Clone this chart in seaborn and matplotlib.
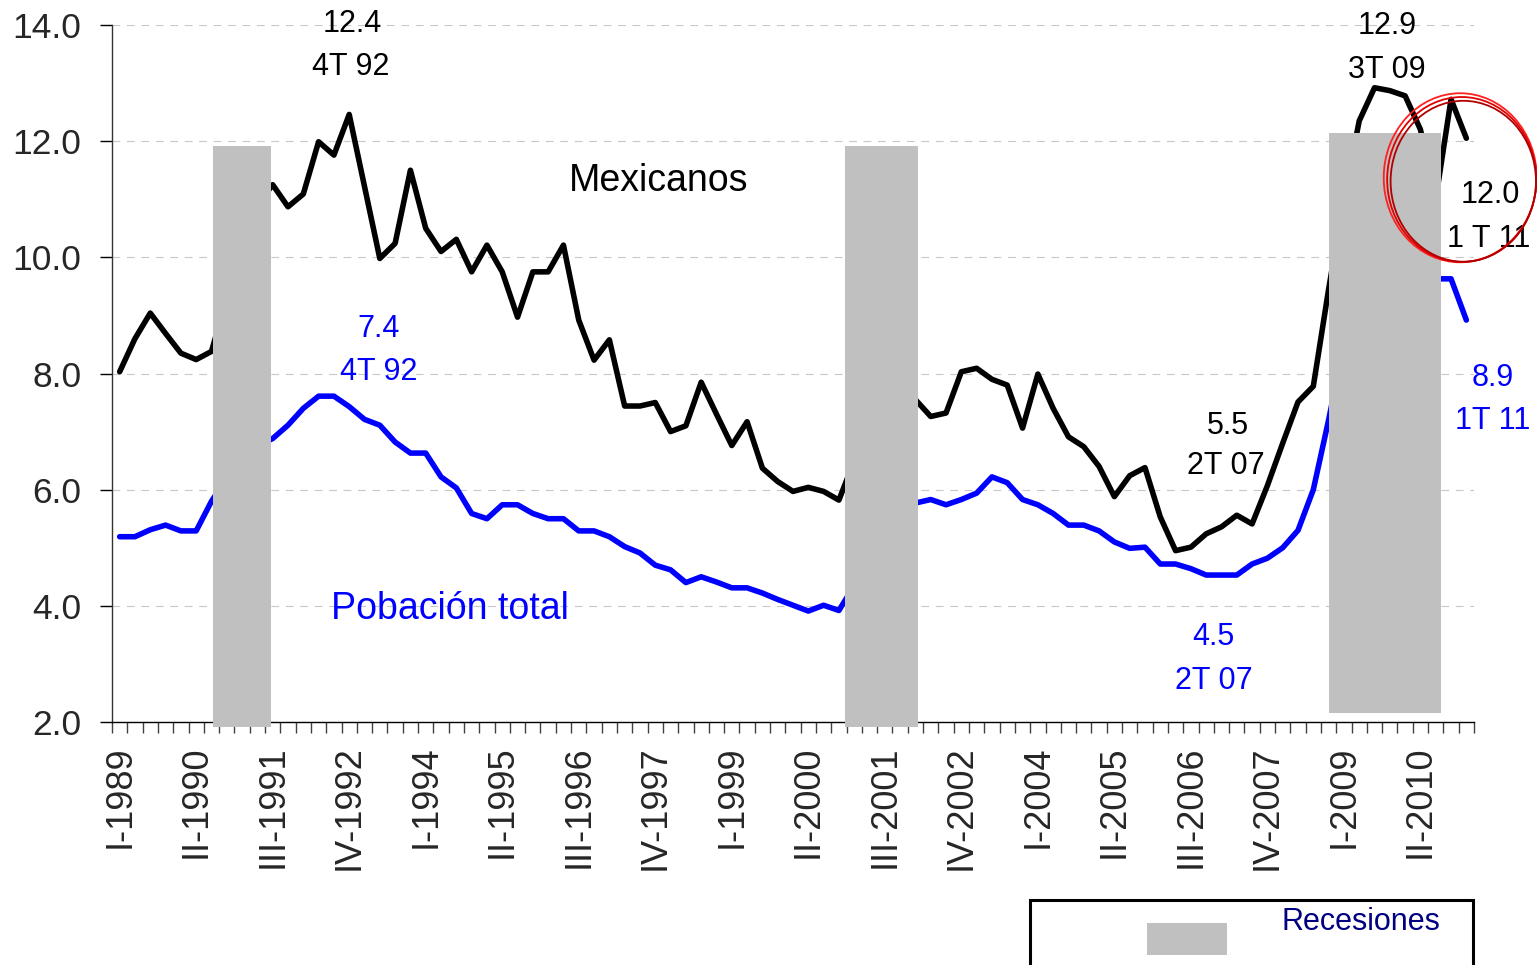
import numpy as np
import pandas as pd
import matplotlib
matplotlib.use("Agg")
import matplotlib.pyplot as plt
from matplotlib.patches import Rectangle, Ellipse
import seaborn as sns

# ---------------- data ----------------
mexicanos = [8.03, 8.60, 9.04, 8.69, 8.35, 8.24, 8.38, 9.30, 10.30, 10.90,
             11.25, 10.87, 11.09, 11.99, 11.76, 12.46, 11.22, 9.98, 10.24, 11.50,
             10.50, 10.10, 10.31, 9.75, 10.21, 9.75, 8.97, 9.75, 9.75, 10.21,
             8.92, 8.23, 8.58, 7.44, 7.44, 7.50, 7.00, 7.10, 7.85, 7.30,
             6.76, 7.17, 6.37, 6.14, 5.97, 6.04, 5.97, 5.82, 6.50, 7.20,
             7.60, 7.80, 7.55, 7.26, 7.32, 8.03, 8.09, 7.90, 7.80, 7.06,
             7.99, 7.40, 6.91, 6.74, 6.40, 5.88, 6.24, 6.38, 5.53, 4.95,
             5.01, 5.24, 5.36, 5.56, 5.41, 6.07, 6.80, 7.51, 7.78, 9.45,
             11.00, 12.35, 12.92, 12.87, 12.78, 12.20, 11.00, 12.72, 12.05]

poblacion = [5.19, 5.19, 5.31, 5.39, 5.29, 5.29, 5.80, 6.20, 6.50, 6.75,
             6.88, 7.11, 7.40, 7.61, 7.61, 7.43, 7.21, 7.11, 6.82, 6.63,
             6.63, 6.22, 6.03, 5.59, 5.50, 5.74, 5.74, 5.59, 5.50, 5.50,
             5.29, 5.29, 5.19, 5.02, 4.91, 4.70, 4.62, 4.40, 4.50, 4.41,
             4.31, 4.31, 4.22, 4.11, 4.01, 3.91, 4.01, 3.92, 4.35, 4.90,
             5.30, 5.60, 5.77, 5.83, 5.74, 5.83, 5.94, 6.22, 6.12, 5.83,
             5.74, 5.59, 5.39, 5.39, 5.29, 5.10, 4.99, 5.01, 4.72, 4.72,
             4.64, 4.53, 4.53, 4.53, 4.72, 4.82, 5.00, 5.30, 6.00, 7.20,
             8.50, 9.30, 9.60, 9.70, 9.70, 9.65, 9.63, 9.63, 8.92]

tick_labels = ["I-1989", "II-1990", "III-1991", "IV-1992", "I-1994", "II-1995",
               "III-1996", "IV-1997", "I-1999", "II-2000", "III-2001", "IV-2002",
               "I-2004", "II-2005", "III-2006", "IV-2007", "I-2009", "II-2010"]
tick_every = 5

# recession shading (quarter index units / value units)
rec_start = [6.10, 47.41, 79.04]
rec_end = [9.89, 52.18, 86.37]
rec_bottom = [1.92, 1.92, 2.16]
rec_top = [11.91, 11.91, 12.14]

# annotations: (text, x quarter index, y value, colour, size)
annotations = [
    ("12.4", 15.17, 14.01, "black", 22), ("4T 92", 15.08, 13.28, "black", 22),
    ("Mexicanos", 35.2, 11.31, "black", 27),
    ("7.4", 16.95, 8.76, "blue", 22), ("4T 92", 16.95, 8.02, "blue", 22),
    ("Pobación total", 21.6, 3.94, "blue", 27),
    ("5.5", 72.4, 7.10, "black", 22), ("2T 07", 72.3, 6.40, "black", 22),
    ("4.5", 71.5, 3.46, "blue", 22), ("2T 07", 71.5, 2.71, "blue", 22),
    ("12.9", 82.8, 13.99, "black", 22), ("3T 09", 82.8, 13.23, "black", 22),
    ("12.0", 89.56, 11.07, "black", 22), ("1 T 11", 89.43, 10.32, "black", 22),
    ("8.9", 89.7, 7.93, "blue", 22), ("1T 11", 89.7, 7.19, "blue", 22),
]

n = len(mexicanos)
df = pd.DataFrame({"q": np.arange(n), "Mexicanos": mexicanos, "Poblacion": poblacion})

# ---------------- style ----------------
sns.set_style("white")
plt.rcParams["font.family"] = ["Liberation Sans", "DejaVu Sans"]

W, H = 1537, 965
fig = plt.figure(figsize=(W / 100, H / 100), dpi=100)
ax = fig.add_axes([112 / W, 243 / H, 1362 / W, 697 / H])

sns.lineplot(data=df, x="q", y="Mexicanos", ax=ax, color="black", linewidth=4.0, zorder=2)
sns.lineplot(data=df, x="q", y="Poblacion", ax=ax, color="#0000ff", linewidth=4.0, zorder=2)

heights = np.array(rec_top) - np.array(rec_bottom)
widths = np.array(rec_end) - np.array(rec_start)
ax.bar(rec_start, heights, bottom=rec_bottom, width=widths, align="edge",
       color="#c0c0c0", linewidth=0, zorder=3, clip_on=False)

ax.set_xlim(-0.5, n - 0.5)
ax.set_ylim(2, 14)
ax.set_xlabel("")
ax.set_ylabel("")

# y axis
ax.set_yticks(np.arange(2, 14.1, 2))
ax.set_yticklabels([f"{v:.1f}" for v in np.arange(2, 14.1, 2)], fontsize=25.5)
ax.tick_params(axis="y", which="major", direction="out", length=9, width=1,
               color="black", pad=13, left=True)

# x axis: ticks between categories, labels at category centres
ax.set_xticks(np.arange(-0.5, n, 1))
ax.set_xticklabels([])
ax.tick_params(axis="x", which="major", direction="out", length=8, width=1,
               color="#404040", bottom=True)
ax.set_xticks(np.arange(0, n, tick_every)[:len(tick_labels)], minor=True)
ax.set_xticklabels(tick_labels, minor=True, rotation=90, fontsize=26)
ax.tick_params(axis="x", which="minor", length=0, pad=17)

ax.yaxis.grid(True, color="#c8c8c8", linestyle=(0, (7, 6)), linewidth=0.8, zorder=0)
ax.xaxis.grid(False)
ax.set_axisbelow(True)

for s in ["top", "right"]:
    ax.spines[s].set_visible(False)
ax.spines["left"].set_color("#333333")
ax.spines["left"].set_linewidth(1)
ax.spines["bottom"].set_color("black")
ax.spines["bottom"].set_linewidth(1)

for txt, x, y, c, fs in annotations:
    ax.text(x, y, txt, color=c, fontsize=fs, ha="center", va="center", zorder=6)

# red circle highlight around last value
for dx, dy, w, h, col in [(0.0, 0.0, 10.0, 2.91, "#ff2020"),
                          (0.1, -0.03, 9.75, 2.84, "#e00000"),
                          (0.2, -0.06, 9.5, 2.77, "#b00000")]:
    ax.add_patch(Ellipse((87.6 + dx, 11.37 + dy), w, h, fill=False,
                         edgecolor=col, linewidth=1.3, zorder=7, clip_on=False))

# legend box (clipped at bottom of figure)
fig.add_artist(Rectangle((1029.5 / W, -60 / H), 443 / W, 125 / H,
                         transform=fig.transFigure, fill=False,
                         edgecolor="black", linewidth=2.2))
fig.add_artist(Rectangle((1147 / W, (H - 955) / H), 80 / W, 32 / H,
                         transform=fig.transFigure, facecolor="#c0c0c0",
                         edgecolor="none"))
fig.text(1281.7 / W, (H - 922) / H, "Recesiones", color="#000080",
         fontsize=22, ha="left", va="center")

fig.savefig("out.png", dpi=100)
